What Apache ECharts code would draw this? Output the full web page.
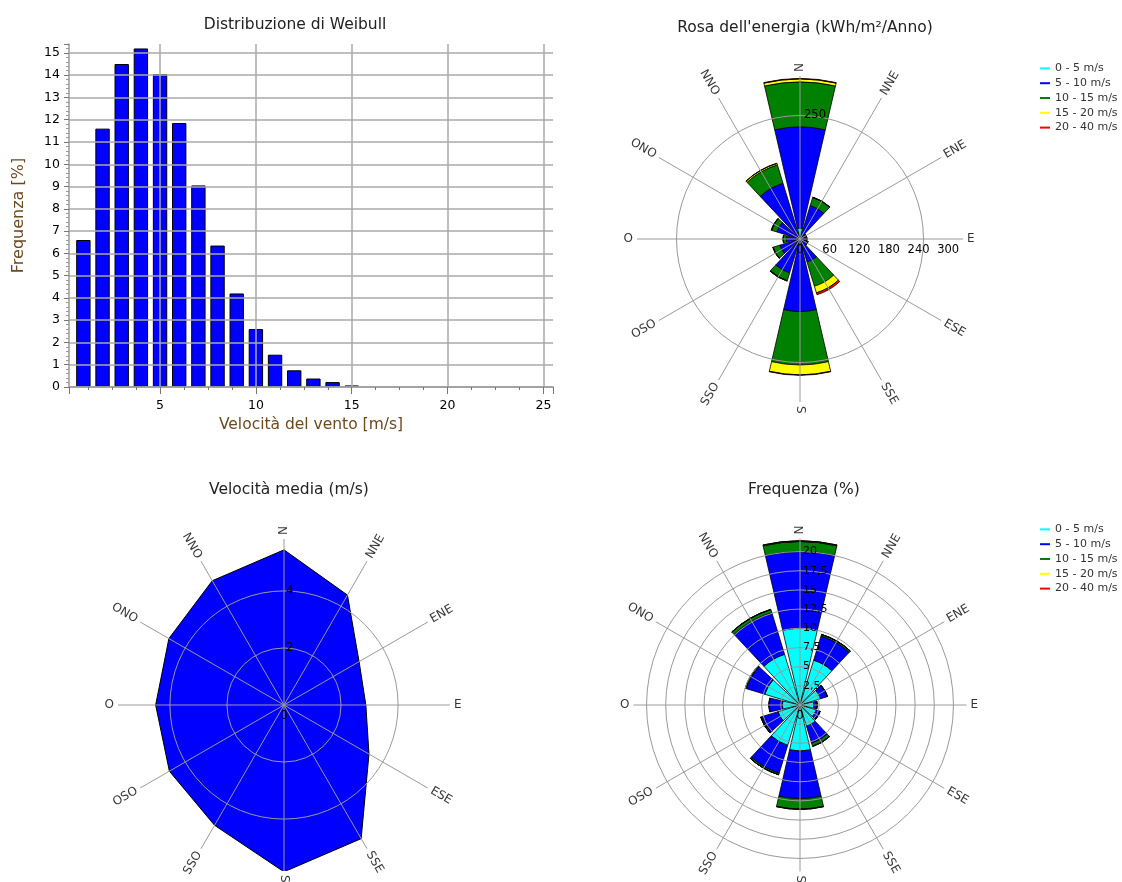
<!DOCTYPE html>
<html><head><meta charset="utf-8">
<script src="https://cdn.jsdelivr.net/npm/echarts@6/dist/echarts.min.js"></script>
<style>html,body{margin:0;padding:0;background:#fff}#c{width:1122px;height:882px}</style>
</head><body><div id="c"></div>
<script>
// ---------- data ----------
const weibullSpeeds = [1,2,3,4,5,6,7,8,9,10,11,12,13,14,15];
const weibullFreq = [6.6,11.6,14.5,15.2,14.05,11.85,9.05,6.35,4.2,2.6,1.45,0.75,0.38,0.22,0.07];

const directions = ['N','NNE','ENE','E','ESE','SSE','S','SSO','OSO','O','ONO','NNO'];
const directionAngles = [0,30,60,90,120,150,180,210,240,270,300,330];

const speedClasses = ['0 - 5 m/s','5 - 10 m/s','10 - 15 m/s','15 - 20 m/s','20 - 40 m/s'];
const classColors = ['#00FFFF','#0000FF','#008000','#FFFF00','#FF0000'];

// energy rose (kWh/m2/anno) per speed class, per direction
const energy0_5   = [22,5,3,3,3,4,10,5,4,4,4,8];
const energy5_10  = [205,66,9,9,11,45,137,67,39,24,45,110];
const energy10_15 = [91,17,2,2,3,51,108,16,14,6,11,39];
const energy15_20 = [6,0.5,0,0,0,14,20,1,0.5,0.3,1,3];
const energy20_40 = [1,0,0,0,0,4,1,0,0,0,0,0.5];

// frequency rose (%) per speed class, per direction
const freq0_5   = [10.0,6.1,2.8,1.8,2.2,2.9,6.0,5.5,3.0,2.3,4.8,6.9];
const freq5_10  = [10.0,3.3,0.9,0.4,0.5,2.3,6.2,3.8,2.2,1.7,2.5,5.7];
const freq10_15 = [1.3,0.2,0.05,0.03,0.05,0.4,1.35,0.2,0.15,0.05,0.15,0.4];
const freq15_20 = [0.1,0.02,0,0,0,0.05,0.05,0,0,0,0,0.03];
const freq20_40 = [0,0,0,0,0,0,0,0,0,0,0,0];

// mean speed (m/s) per direction
const velocity = [5.44,4.45,3.04,2.87,3.44,5.41,5.85,4.87,4.64,4.50,4.66,5.03];

const energyTickLabels = [0,60,120,180,240,300];

// ---------- helpers ----------
const FONT = 'DejaVu Sans';
const GRID = '#9a9a9a';
const ENERGY_MAX = 330, FREQ_MAX = 21.7, VEL_MAX = 5.82;
const TITLE_STYLE = { fontSize: 15.5, fontWeight: 'normal', color: '#222', fontFamily: FONT };

function roseBars(polarIndex, stack, arrays) {
  return arrays.map((arr, k) => ({
    type: 'bar', coordinateSystem: 'polar', polarIndex, stack, name: speedClasses[k],
    barWidth: '87%',
    data: arr.map((v, i) => [v, directionAngles[i]]),
    itemStyle: { color: classColors[k], borderColor: '#000', borderWidth: 0.8 },
    silent: true, z: 2
  }));
}
function dirLabels(polarIndex, max, radiusPx) {
  const r = max * (1 + 4 / radiusPx);
  return {
    type: 'scatter', coordinateSystem: 'polar', polarIndex, clip: false, silent: true,
    symbolSize: 1, itemStyle: { color: 'rgba(0,0,0,0)' }, z: 10,
    data: directions.map((d, i) => {
      const a = directionAngles[i];
      let rot = 90 - a, align = 'left';
      if (a > 180) { rot += 180; align = 'right'; }
      return { value: [r, a], name: d, label: { rotate: rot, align } };
    }),
    label: { show: true, position: 'inside', formatter: p => p.name, fontSize: 12,
             fontFamily: FONT, color: '#000', verticalAlign: 'middle' }
  };
}
function angleAx(polarIndex, startAngle, showLines) {
  return {
    polarIndex, type: 'value', min: 0, max: 360, interval: 30, startAngle, clockwise: true, z: 5,
    axisLine: { show: false }, axisTick: { show: false }, axisLabel: { show: false },
    splitLine: { show: showLines, lineStyle: { color: GRID, width: 1 } }
  };
}
// labels to the right of the north axis
function northLabels(extra) {
  return Object.assign({ showMinLabel: false, showMaxLabel: false, fontSize: 11.5, color: '#000',
    margin: -3, align: 'left', verticalAlign: 'middle', fontFamily: FONT }, extra || {});
}
// labels below the east axis
function eastLabels(formatter) {
  return { showMaxLabel: false, fontSize: 11.5, color: '#000', margin: -5, align: 'center',
    verticalAlign: 'top', fontFamily: FONT, formatter };
}
function zeroOnlyRadius(polarIndex, max) {
  return { polarIndex, type: 'value', min: 0, max: max, z: 5,
    axisLine: { show: false }, axisTick: { show: false }, splitLine: { show: false },
    axisLabel: eastLabels(v => v === 0 ? '0' : '') };
}
function greyThenHidden(n) { const a = []; for (let i = 0; i < n; i++) a.push(GRID); a.push('rgba(0,0,0,0)'); return a; }

const chart = echarts.init(document.getElementById('c'));
chart.setOption({
  animation: false,
  backgroundColor: '#fff',
  textStyle: { fontFamily: FONT },
  title: [
    { text: 'Distribuzione di Weibull', left: 290, top: 12, textAlign: 'center', textStyle: TITLE_STYLE },
    { text: "Rosa dell'energia (kWh/m²/Anno)", left: 800, top: 15, textAlign: 'center', textStyle: TITLE_STYLE },
    { text: 'Velocità media (m/s)', left: 284, top: 477, textAlign: 'center', textStyle: TITLE_STYLE },
    { text: 'Frequenza (%)', left: 799, top: 477, textAlign: 'center', textStyle: TITLE_STYLE }
  ],
  legend: [0, 1].map(j => ({
    data: speedClasses, orient: 'vertical', left: 1035, top: j === 0 ? 57 : 518,
    icon: 'rect', itemWidth: 10, itemHeight: 2, itemGap: 2,
    itemStyle: { borderWidth: 0 }, selectedMode: false,
    textStyle: { fontSize: 11, fontFamily: FONT, color: '#333', lineHeight: 12.8 }
  })),
  grid: [{ left: 69, top: 44, width: 484, height: 343 }],
  xAxis: [{
    type: 'value', gridIndex: 0, min: 0.25, max: 25.5, splitNumber: 5, z: 5,
    axisLine: { lineStyle: { color: GRID, width: 1.5 } },
    axisTick: { length: 7, lineStyle: { color: '#777' } },
    minorTick: { show: true, splitNumber: 4, length: 3, lineStyle: { color: '#777' } },
    axisLabel: { showMinLabel: false, showMaxLabel: false, color: '#000', fontSize: 12.5, margin: 12, fontFamily: FONT },
    splitLine: { show: true, showMinLine: false, showMaxLine: false, lineStyle: { color: '#a8a8a8', width: 1.5 } },
    name: 'Velocità del vento [m/s]', nameLocation: 'middle', nameGap: 30,
    nameTextStyle: { fontSize: 15.5, color: '#6b4a22', fontFamily: FONT }
  }],
  yAxis: [{
    type: 'value', gridIndex: 0, min: 0, max: 15.4, interval: 1, z: 5,
    axisLine: { show: true, lineStyle: { color: GRID, width: 1.5 } },
    axisTick: { show: true, length: 5, lineStyle: { color: '#777' } },
    minorTick: { show: true, splitNumber: 5, length: 3, lineStyle: { color: '#999' } },
    axisLabel: { showMaxLabel: false, color: '#000', fontSize: 12.5, margin: 9, fontFamily: FONT },
    splitLine: { show: true, showMaxLine: false, lineStyle: { color: '#a8a8a8', width: 1.5 } },
    name: 'Frequenza [%]', nameLocation: 'middle', nameGap: 42, nameRotate: 90,
    nameTextStyle: { fontSize: 16, color: '#6b4a22', fontFamily: FONT }
  }],
  polar: [
    { center: [800, 239], radius: 163 },   // 0 energy
    { center: [800, 239], radius: 163 },   // 1 energy E-axis labels
    { center: [284, 705], radius: 166 },   // 2 velocity
    { center: [800, 705], radius: 166.5 }, // 3 frequency
    { center: [284, 705], radius: 166 },   // 4 velocity "0"
    { center: [800, 705], radius: 166.5 }  // 5 frequency "0"
  ],
  angleAxis: [
    angleAx(0, 90, true),
    angleAx(1, 0, false),
    angleAx(2, 90, true),
    angleAx(3, 90, true),
    angleAx(4, 0, false),
    angleAx(5, 0, false)
  ],
  radiusAxis: [
    { polarIndex: 0, type: 'value', min: 0, max: ENERGY_MAX, interval: 250, z: 5,
      axisLine: { show: false }, axisTick: { show: false },
      axisLabel: northLabels({ margin: -4 }),
      splitLine: { show: true, lineStyle: { color: greyThenHidden(2), width: 1 } } },
    { polarIndex: 1, type: 'value', min: 0, max: ENERGY_MAX, interval: 60, z: 5,
      axisLine: { show: false }, axisTick: { show: false }, splitLine: { show: false },
      axisLabel: eastLabels(v => energyTickLabels.indexOf(v) >= 0 ? String(v) : '') },
    { polarIndex: 2, type: 'value', min: 0, max: VEL_MAX, interval: 2, z: 5,
      axisLine: { show: false }, axisTick: { show: false },
      axisLabel: northLabels({ margin: -2 }),
      splitLine: { show: true, lineStyle: { color: greyThenHidden(3), width: 1 } } },
    { polarIndex: 3, type: 'value', min: 0, max: FREQ_MAX, interval: 2.5, z: 5,
      axisLine: { show: false }, axisTick: { show: false },
      axisLabel: northLabels({ fontSize: 11, formatter: v => String(v).replace('.', ',') }),
      splitLine: { show: true, lineStyle: { color: greyThenHidden(9), width: 1 } } },
    zeroOnlyRadius(4, VEL_MAX),
    zeroOnlyRadius(5, FREQ_MAX)
  ],
  series: [
    { type: 'bar', xAxisIndex: 0, yAxisIndex: 0, barWidth: '75%', silent: true,
      data: weibullSpeeds.map((s, i) => [s, weibullFreq[i]]),
      itemStyle: { color: '#0000FF', borderColor: '#000', borderWidth: 1 } },
    ...roseBars(0, 'energy', [energy0_5, energy5_10, energy10_15, energy15_20, energy20_40]),
    ...roseBars(3, 'freq', [freq0_5, freq5_10, freq10_15, freq15_20, freq20_40]),
    { type: 'line', coordinateSystem: 'polar', polarIndex: 2, clip: false, silent: true,
      symbol: 'none', z: 2,
      data: velocity.map((v, i) => [v, directionAngles[i]]).concat([[velocity[0], 360]]),
      lineStyle: { color: '#000', width: 1 },
      areaStyle: { color: '#0000FF', opacity: 1 } },
    dirLabels(0, ENERGY_MAX, 163),
    dirLabels(2, VEL_MAX, 166),
    dirLabels(3, FREQ_MAX, 166.5)
  ]
});
</script></body></html>
